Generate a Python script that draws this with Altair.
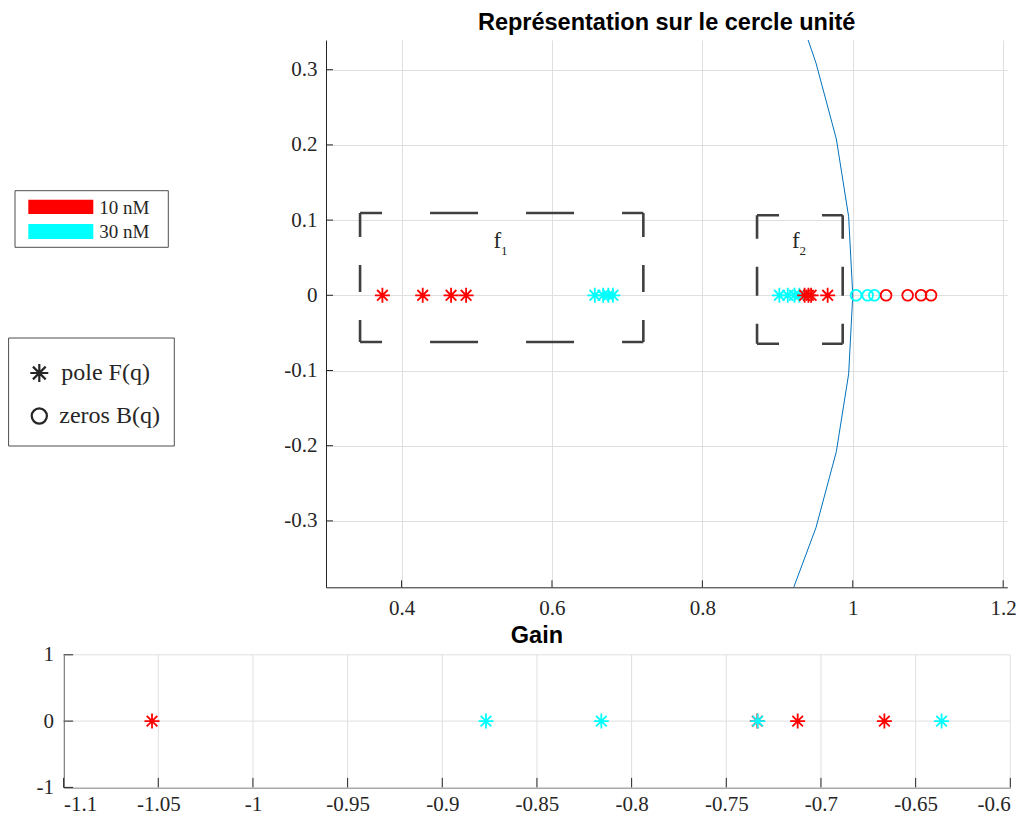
import altair as alt
import pandas as pd
import math

# ---------------- data ----------------
POLE_10_F1 = [0.3745, 0.4281, 0.4658, 0.4858]
POLE_30_F1 = [0.657, 0.668, 0.675, 0.681]
POLE_10_F2 = [0.936, 0.941, 0.9446, 0.9666]
POLE_30_F2 = [0.9024, 0.9135, 0.9224, 0.9290]
ZERO_10 = [1.0443, 1.0730, 1.0908, 1.1041]
ZERO_30 = [1.0044, 1.0198, 1.0287]
GAIN_10 = [-1.0533, -0.7336, -0.7123, -0.6665]
GAIN_30 = [-0.8769, -0.816, -0.7334, -0.6363]
BOX_F1 = [0.3448, 0.7215, -0.0621, 0.1094]   # x0, x1, y0, y1
BOX_F2 = [0.8727, 0.9866, -0.0644, 0.1064]
LABEL_F = [("f", "1", 0.5221, 0.5323), ("f", "2", 0.9193, 0.9290)]
XT1 = [0.4, 0.6, 0.8, 1.0, 1.2]
YT1 = [-0.3, -0.2, -0.1, 0.0, 0.1, 0.2, 0.3]
XT2 = [-1.1, -1.05, -1.0, -0.95, -0.9, -0.85, -0.8, -0.75, -0.7, -0.65, -0.6]
YT2 = [-1, 0, 1]
CONCS = ["10 nM", "30 nM"]
COLORS = ["#ff0000", "#00ffff"]
Y1_DOMAIN = [-0.3883, 0.3395]
X1_DOMAIN = [0.2995, 1.2055]
# unit circle vertices (degrees), cut at the edges of the visible y range
CIRCLE_ANGLES_DEG = ([math.degrees(math.asin(Y1_DOMAIN[0]))] + list(range(-18, 19, 6))
                     + [math.degrees(math.asin(Y1_DOMAIN[1]))])

STAR = "M0,-1L0,1M-1,0L1,0M-0.7071,-0.7071L0.7071,0.7071M-0.7071,0.7071L0.7071,-0.7071"
SERIF = "Liberation Serif"
SANS = "Liberation Sans"
DARK = "#262626"
GRID = "#dfdfdf"

# top panel plot area (pixels), bottom panel placed relative to it
W1, H1 = 681.3, 547.3
BX0, BX1 = -262.4, 684.3      # bottom panel left/right (relative to top panel origin)
BY0, BY1 = 614.8, 747.4       # bottom panel top/bottom
PAD_L, PAD_T = 318.0, 32.0
SVG_W, SVG_H = 1018, 807

xs1 = alt.Scale(domain=X1_DOMAIN, nice=False, zero=False)
ys1 = alt.Scale(domain=Y1_DOMAIN, nice=False, zero=False)
xs2 = alt.Scale(domain=[-1.1, -0.6], range=[BX0, BX1], nice=False, zero=False)
ys2 = alt.Scale(domain=[-1, 1], range=[BY1, BY0], nice=False, zero=False)
cscale = alt.Scale(domain=CONCS, range=COLORS)


def axis(values, pad, orient, offset, grid):
    return alt.Axis(values=values, labelExpr="'' + datum.value", grid=grid,
                    gridColor=GRID, gridWidth=1, domainColor=DARK, domainWidth=1,
                    ticks=False, labelFont=SERIF, labelFontSize=21,
                    labelColor=DARK, labelPadding=pad, title=None,
                    orient=orient, offset=offset)


AX1 = axis(XT1, 10, "bottom", 0, True)
AY1 = axis(YT1, 9, "left", 0, True)
AX2 = axis(XT2, 6.5, "bottom", BY1 - H1, False)
AY2 = axis(YT2, 10, "left", -BX0, False)


def X1(f):
    return alt.X(f, scale=xs1, axis=AX1)


def Y1(f):
    return alt.Y(f, scale=ys1, axis=AY1)


def X2(f):
    return alt.X(f, scale=xs2, axis=AX2)


def Y2(f):
    return alt.Y(f, scale=ys2, axis=AY2)


one = pd.DataFrame({"a": [0]})

# ---------------- top panel ----------------
circ = pd.DataFrame({
    "ang": CIRCLE_ANGLES_DEG,
    "cx": [math.cos(math.radians(a)) for a in CIRCLE_ANGLES_DEG],
    "cy": [math.sin(math.radians(a)) for a in CIRCLE_ANGLES_DEG],
})
circle_line = alt.Chart(circ).mark_line(clip=True, color="#0072bd", strokeWidth=1).encode(
    x=X1("cx:Q"), y=Y1("cy:Q"), order="ang:Q")

xtick1 = alt.Chart(pd.DataFrame({"v": XT1})).mark_rule(color=DARK, strokeWidth=1).encode(
    x=X1("v:Q"), y=alt.value(H1), y2=alt.value(H1 - 7))
ytick1 = alt.Chart(pd.DataFrame({"v": YT1})).mark_rule(color=DARK, strokeWidth=1).encode(
    y=Y1("v:Q"), x=alt.value(0), x2=alt.value(7))


def box_layers(b, hdash, hoff, vdash, voff):
    x0, x1, y0, y1 = b
    h = pd.DataFrame({"x": [x0, x0], "x2": [x1, x1], "y": [y1, y0]})
    v = pd.DataFrame({"x": [x0, x1], "y": [y0, y0], "y2": [y1, y1]})
    lh = alt.Chart(h).mark_rule(color="#404040", strokeWidth=2.6, strokeDash=hdash,
                                strokeDashOffset=hoff).encode(
        x=X1("x:Q"), x2="x2:Q", y=Y1("y:Q"))
    lv = alt.Chart(v).mark_rule(color="#404040", strokeWidth=2.6, strokeDash=vdash,
                                strokeDashOffset=voff).encode(
        x=X1("x:Q"), y=Y1("y:Q"), y2="y2:Q")
    return [lh, lv]


boxes = box_layers(BOX_F1, [48, 48], 26, [27, 28], 5) + box_layers(BOX_F2, [43, 43], 21, [29, 28], 9)

poles = pd.DataFrame({
    "x": POLE_30_F1 + POLE_30_F2 + POLE_10_F1 + POLE_10_F2,
    "conc": ["30 nM"] * (len(POLE_30_F1) + len(POLE_30_F2)) + ["10 nM"] * (len(POLE_10_F1) + len(POLE_10_F2)),
})
poles["y"] = 0.0
zeros = pd.DataFrame({"x": ZERO_30 + ZERO_10,
                      "conc": ["30 nM"] * len(ZERO_30) + ["10 nM"] * len(ZERO_10)})
zeros["y"] = 0.0

pole_marks = alt.Chart(poles).mark_point(shape=STAR, filled=False, size=225, strokeWidth=1.8, opacity=1).encode(
    x=X1("x:Q"), y=Y1("y:Q"), color=alt.Color("conc:N", scale=cscale, legend=None))
zero_marks = alt.Chart(zeros).mark_point(shape="circle", filled=False, size=115, strokeWidth=1.8, opacity=1).encode(
    x=X1("x:Q"), y=Y1("y:Q"), color=alt.Color("conc:N", scale=cscale, legend=None))

flabels = []
for f, sub, xf, xs in LABEL_F:
    flabels.append(alt.Chart(pd.DataFrame({"x": [xf], "y": [0.0629]})).mark_text(
        text=f, font=SERIF, fontSize=23, align="left", baseline="alphabetic", color=DARK).encode(
        x=X1("x:Q"), y=Y1("y:Q")))
    flabels.append(alt.Chart(pd.DataFrame({"x": [xs], "y": [0.0532]})).mark_text(
        text=sub, font=SERIF, fontSize=13, align="left", baseline="alphabetic", color=DARK).encode(
        x=X1("x:Q"), y=Y1("y:Q")))


def prect(x, x2, y, y2, **kw):
    return alt.Chart(one).mark_rect(**kw).encode(
        x=alt.value(x), x2=alt.value(x2), y=alt.value(y), y2=alt.value(y2))


def ptext(txt, x, y, size, **kw):
    return alt.Chart(one).mark_text(text=txt, fontSize=size, **kw).encode(
        x=alt.value(x), y=alt.value(y))


legend1 = [
    prect(-311, -157.7, 150.7, 207.3, fill="white", stroke="#4d4d4d", strokeWidth=1),
    prect(-297.7, -232.7, 159.7, 174, fill=COLORS[0]),
    prect(-297.7, -232.7, 184, 199, fill=COLORS[1]),
    ptext(CONCS[0], -226.7, 168.3, 19, font=SERIF, align="left", baseline="middle", color=DARK),
    ptext(CONCS[1], -226.7, 191.8, 19, font=SERIF, align="left", baseline="middle", color=DARK),
]
legend2 = [
    prect(-317.4, -151.7, 298, 406, fill="white", stroke="#4d4d4d", strokeWidth=1),
    alt.Chart(one).mark_point(shape=STAR, filled=False, size=324, strokeWidth=2.2, color=DARK, opacity=1).encode(
        x=alt.value(-286.7), y=alt.value(333)),
    alt.Chart(one).mark_point(shape="circle", filled=False, size=230, strokeWidth=2.2, color=DARK, opacity=1).encode(
        x=alt.value(-286.7), y=alt.value(376)),
    ptext("pole F(q)", -264.7, 333, 24, font=SERIF, align="left", baseline="middle", color=DARK),
    ptext("zeros B(q)", -266.7, 376, 24, font=SERIF, align="left", baseline="middle", color=DARK),
]

title_top = ptext("Représentation sur le cercle unité", W1 / 2, -10.3, 23.5,
                  font=SANS, fontWeight="bold", align="center", baseline="alphabetic", color="black")

top = alt.layer(
    circle_line, *boxes, xtick1, ytick1, pole_marks, zero_marks, *flabels,
    *legend1, *legend2, title_top,
)

# ---------------- bottom panel ----------------
gridx2 = alt.Chart(pd.DataFrame({"v": XT2})).mark_rule(color=GRID, strokeWidth=1).encode(
    x=X2("v:Q"), y=alt.value(BY0), y2=alt.value(BY1))
gridy2 = alt.Chart(pd.DataFrame({"v": YT2})).mark_rule(color=GRID, strokeWidth=1).encode(
    y=Y2("v:Q"), x=alt.value(BX0), x2=alt.value(BX1))
gains = pd.DataFrame({"x": GAIN_10 + GAIN_30,
                      "conc": ["10 nM"] * len(GAIN_10) + ["30 nM"] * len(GAIN_30)})
gains["y"] = 0.0
gain_marks = alt.Chart(gains).mark_point(shape=STAR, filled=False, size=225, strokeWidth=1.8, opacity=1).encode(
    x=X2("x:Q"), y=Y2("y:Q"), color=alt.Color("conc:N", scale=cscale, legend=None))
xtick2 = alt.Chart(pd.DataFrame({"v": XT2})).mark_rule(color=DARK, strokeWidth=1).encode(
    x=X2("v:Q"), y=alt.value(BY1), y2=alt.value(BY1 - 9.5))
ytick2 = alt.Chart(pd.DataFrame({"v": YT2})).mark_rule(color=DARK, strokeWidth=1).encode(
    y=Y2("v:Q"), x=alt.value(BX0), x2=alt.value(BX0 + 9.5))
title_bot = ptext("Gain", (BX0 + BX1) / 2, BY0 - 12, 23.5, font=SANS, fontWeight="bold",
                  align="center", baseline="alphabetic", color="black")
bottom = alt.layer(gridx2, gridy2, xtick2, ytick2, gain_marks, title_bot)

chart = alt.layer(top, bottom).resolve_scale(x="independent", y="independent").properties(
    width=W1, height=H1,
    autosize=alt.AutoSizeParams(type="none"),
    padding={"left": PAD_L, "top": PAD_T, "right": SVG_W - PAD_L - W1, "bottom": SVG_H - PAD_T - H1},
    background="white",
).configure_view(stroke=None)

chart.save("out.html", embed_options={"renderer": "svg", "actions": False})
